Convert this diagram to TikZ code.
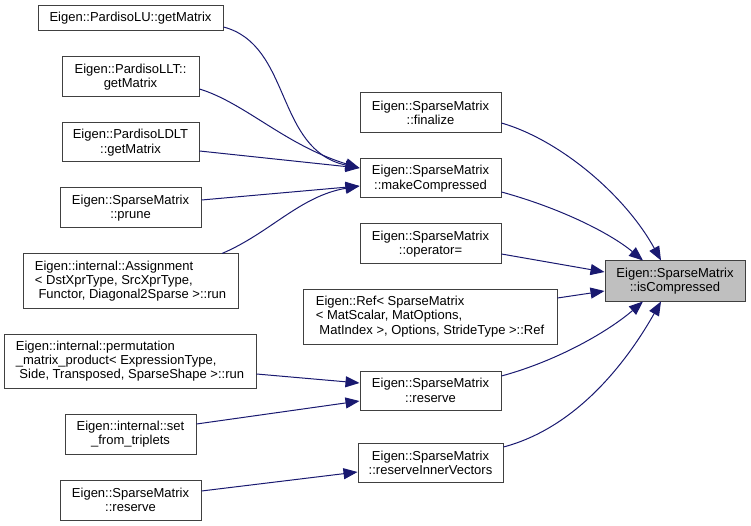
\documentclass[tikz,border=0pt]{standalone}
\usepackage{fontspec}
\setmainfont{Liberation Sans}
\usetikzlibrary{arrows.meta}
\definecolor{edgeblue}{HTML}{191970}
\definecolor{hl}{HTML}{BFBFBF}
\definecolor{frame}{HTML}{404040}
\tikzset{
  box/.style={draw=frame, line width=1pt, fill=white, inner sep=0pt, font=\fontsize{13}{14.3}\selectfont, text=black},
  cbox/.style={box, align=center},
  lbox/.style={box, align=left},
  e/.style={draw=edgeblue, line width=1pt, -{Triangle[length=14pt,width=11pt]}}
}
\newcommand{\bx}[7]{% name, style, x1, y1, x2, y2, text
  \node[#2, minimum width={(#5-#3)*1pt}, minimum height={(#6-#4)*1pt}] (#1) at ({(#3+#5)/2},{(#4+#6)/2}) {#7};}
\begin{document}
\begin{tikzpicture}[x=1pt,y=-1pt]
\useasboundingbox (0,0) rectangle (751,526);
\bx{lu}{cbox}{38}{6}{223}{31}{Eigen::PardisoLU::getMatrix}
\bx{llt}{cbox}{62}{57}{199}{97}{Eigen::PardisoLLT::\\getMatrix}
\bx{ldlt}{cbox}{62}{123}{199}{162}{Eigen::PardisoLDLT\\::getMatrix}
\bx{prune}{cbox}{60}{188}{201}{228}{Eigen::SparseMatrix\\::prune}
\bx{asg}{lbox}{23}{254}{238}{308}{Eigen::internal::Assignment\\< DstXprType, SrcXprType,\\ \ Functor, Diagonal2Sparse >::run}
\bx{perm}{lbox}{4}{334}{256}{388}{Eigen::internal::permutation\\\_matrix\_product< ExpressionType,\\ \ Side, Transposed, SparseShape >::run}
\bx{sft}{cbox}{65}{414}{196}{454}{Eigen::internal::set\\\_from\_triplets}
\bx{rsl}{cbox}{60}{480}{201}{520}{Eigen::SparseMatrix\\::reserve}
\bx{fin}{cbox}{360}{93}{501}{133}{Eigen::SparseMatrix\\::finalize}
\bx{mc}{cbox}{360}{159}{501}{198}{Eigen::SparseMatrix\\::makeCompressed}
\bx{op}{cbox}{360}{224}{501}{264}{Eigen::SparseMatrix\\::operator=}
\bx{ref}{lbox}{303}{289}{557}{344}{Eigen::Ref< SparseMatrix\\< MatScalar, MatOptions,\\ \ MatIndex >, Options, StrideType >::Ref}
\bx{rs}{cbox}{360}{371}{501}{410}{Eigen::SparseMatrix\\::reserve}
\bx{riv}{cbox}{358}{443}{503}{482}{Eigen::SparseMatrix\\::reserveInnerVectors}
\node[cbox, fill=hl, minimum width=140pt, minimum height=40pt] (isc) at (675,281) {Eigen::SparseMatrix\\::isCompressed};
% edges into makeCompressed
\draw[e] (lu.east|-0,27) .. controls (292,45) and (275,150) .. (mc.west|-0,168);
\draw[e] (llt.east|-0,89) .. controls (245,103) and (285,145) .. (mc.west|-0,168);
\draw[e] (ldlt.east|-0,151) -- (mc.west|-0,168);
\draw[e] (prune.east|-0,200) -- (mc.west|-0,186);
\draw[e] (222,0|-asg.north) .. controls (270,233) and (300,196) .. (mc.west|-0,186);
% edges into isCompressed
\draw[e] (fin.east|-0,123) .. controls (560,140) and (625,195) .. (661,0|-isc.north);
\draw[e] (mc.east|-0,192) .. controls (560,208) and (610,233) .. (643,0|-isc.north);
\draw[e] (op.east|-0,254) -- (isc.west|-0,272);
\draw[e] (ref.east|-0,298) -- (isc.west|-0,291);
\draw[e] (rs.east|-0,376) .. controls (560,360) and (610,330) .. (643,0|-isc.south);
\draw[e] (riv.east|-0,447) .. controls (575,428) and (625,365) .. (661,0|-isc.south);
% edges into reserve / reserveInnerVectors
\draw[e] (perm.east|-0,374) -- (rs.west|-0,383);
\draw[e] (sft.east|-0,424) -- (rs.west|-0,401);
\draw[e] (rsl.east|-0,491) -- (riv.west|-0,472);
\end{tikzpicture}
\end{document}
